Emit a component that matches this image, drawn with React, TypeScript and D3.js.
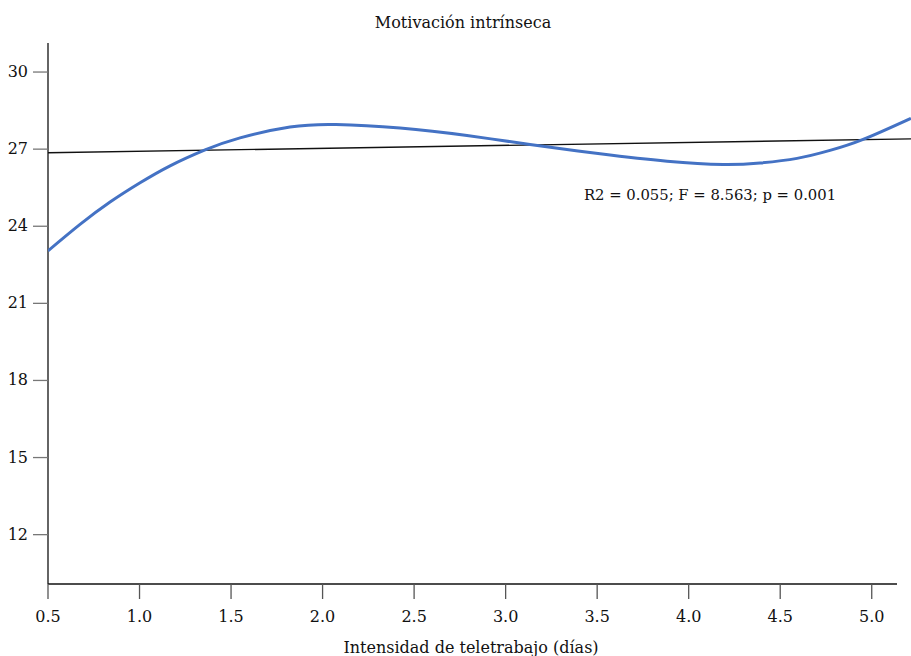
import React from "react";
import * as d3 from "d3";

const title = "Motivación intrínseca";
const xLabel = "Intensidad de teletrabajo (días)";
const annotation = "R2 = 0.055; F = 8.563; p = 0.001";

const xTicks = [0.5, 1.0, 1.5, 2.0, 2.5, 3.0, 3.5, 4.0, 4.5, 5.0];
const yTicks = [12, 15, 18, 21, 24, 27, 30];

// fitted curve
const curveX = [0.5, 0.675, 0.839, 1.003, 1.167, 1.358, 1.549, 1.822, 2.073, 2.423, 2.789, 3.133, 3.516, 3.882, 4.188, 4.39, 4.592, 4.772, 4.953, 5.214];
const curveY = [23.04, 24.07, 24.94, 25.69, 26.35, 26.97, 27.44, 27.86, 27.96, 27.82, 27.53, 27.18, 26.82, 26.53, 26.4, 26.46, 26.64, 26.95, 27.38, 28.2];

// linear fit line
const lineX = [0.5, 5.22];
const lineY = [26.86, 27.4];

const W = 911;
const H = 656;

export default function App() {
  const x = d3.scaleLinear().domain([0.5, 5.138]).range([48, 897]);
  const y = d3.scaleLinear().domain([10.08, 31.13]).range([584, 43]);

  const curvePts: [number, number][] = curveX.map((v, i) => [x(v), y(curveY[i])]);
  const linePts: [number, number][] = lineX.map((v, i) => [x(v), y(lineY[i])]);

  const curvePath = d3.line().curve(d3.curveNatural)(curvePts) || "";
  const linePath = d3.line()(linePts) || "";

  const font = "'DejaVu Serif', serif";
  const fs = 16;

  return (
    <svg
      width={W}
      height={H}
      style={{ position: "absolute", left: 0, top: 0, background: "#fff" }}
      fontFamily={font}
    >
      <defs>
        <clipPath id="clip">
          <rect x={48} y={0} width={W - 48} height={584} />
        </clipPath>
      </defs>
      <text x={463} y={28} textAnchor="middle" fontSize={fs} fill="#111">
        {title}
      </text>

      {/* y axis */}
      <line x1={48} x2={48} y1={43} y2={584} stroke="#111" strokeWidth={1.3} />
      {yTicks.map((t) => (
        <g key={t}>
          <line x1={33} x2={48} y1={y(t)} y2={y(t)} stroke="#777" strokeWidth={1.3} />
          <text x={28} y={y(t) + 5} textAnchor="end" fontSize={fs} fill="#111">
            {t}
          </text>
        </g>
      ))}

      {/* x axis */}
      <line x1={48} x2={897} y1={584} y2={584} stroke="#111" strokeWidth={1.3} />
      {xTicks.map((t) => (
        <g key={t}>
          <line x1={x(t)} x2={x(t)} y1={584} y2={599} stroke="#555" strokeWidth={1.3} />
          <text x={x(t)} y={622} textAnchor="middle" fontSize={fs} fill="#111">
            {d3.format(".1f")(t)}
          </text>
        </g>
      ))}
      <text x={471} y={653} textAnchor="middle" fontSize={fs} fill="#111">
        {xLabel}
      </text>

      <g clipPath="url(#clip)">
        <path d={linePath} fill="none" stroke="#111" strokeWidth={1.4} />
        <path d={curvePath} fill="none" stroke="#4472C4" strokeWidth={3} />
      </g>

      <text x={710} y={200} textAnchor="middle" fontSize={14.8} fill="#111">
        {annotation}
      </text>
    </svg>
  );
}
